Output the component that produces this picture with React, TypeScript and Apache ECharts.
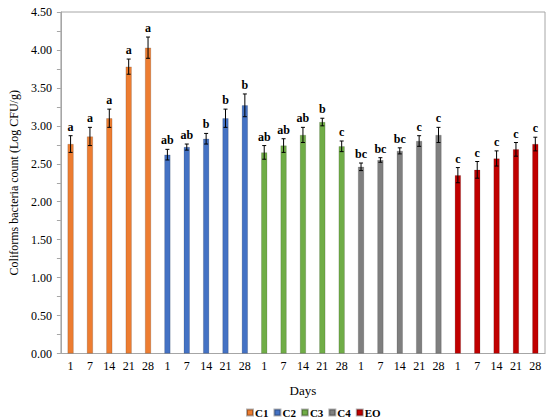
import React, { useEffect, useRef } from "react";
import * as echarts from "echarts";

const days = ["1", "7", "14", "21", "28"];
const groups = ["C1", "C2", "C3", "C4", "EO"];
const colors = ["#ED7D31", "#4472C4", "#70AD47", "#7F7F7F", "#C00000"];

const c1Mean = [2.76, 2.86, 3.1, 3.78, 4.03];
const c1Err = [0.11, 0.12, 0.12, 0.1, 0.14];
const c1Letters = ["a", "a", "a", "a", "a"];

const c2Mean = [2.62, 2.72, 2.83, 3.1, 3.27];
const c2Err = [0.07, 0.04, 0.07, 0.12, 0.15];
const c2Letters = ["ab", "ab", "b", "b", "b"];

const c3Mean = [2.65, 2.74, 2.88, 3.05, 2.73];
const c3Err = [0.09, 0.09, 0.1, 0.05, 0.07];
const c3Letters = ["ab", "ab", "ab", "b", "c"];

const c4Mean = [2.46, 2.55, 2.67, 2.8, 2.88];
const c4Err = [0.05, 0.03, 0.04, 0.07, 0.1];
const c4Letters = ["bc", "bc", "bc", "c", "c"];

const eoMean = [2.35, 2.42, 2.57, 2.69, 2.76];
const eoErr = [0.1, 0.11, 0.1, 0.09, 0.09];
const eoLetters = ["c", "c", "c", "c", "c"];

const yTicks = [0, 0.5, 1, 1.5, 2, 2.5, 3, 3.5, 4, 4.5];

const means = [c1Mean, c2Mean, c3Mean, c4Mean, eoMean];
const errs = [c1Err, c2Err, c3Err, c4Err, eoErr];
const letters = [c1Letters, c2Letters, c3Letters, c4Letters, eoLetters];

const FONT = "Liberation Serif";

export default function App() {
  const ref = useRef<HTMLDivElement>(null);
  useEffect(() => {
    if (!ref.current) return;
    const chart = echarts.init(ref.current, null, { renderer: "svg" });
    const categories: string[] = [];
    groups.forEach((g) => days.forEach((d) => categories.push(g + "|" + d)));
    const n = categories.length;

    const barSeries = groups.map((g, gi) => {
      const data: any[] = new Array(n).fill("-");
      means[gi].forEach((v, di) => {
        data[gi * days.length + di] = v;
      });
      return {
        name: g,
        type: "bar",
        stack: "all",
        barWidth: 6,
        itemStyle: { color: colors[gi], borderColor: "rgba(0,0,0,0.3)", borderWidth: 0.5 },
        data,
      };
    });

    const errData: any[] = [];
    groups.forEach((g, gi) =>
      days.forEach((d, di) => {
        errData.push([gi * days.length + di, means[gi][di], errs[gi][di], letters[gi][di]]);
      })
    );

    const errSeries = {
      type: "custom",
      name: "err",
      data: errData,
      z: 10,
      renderItem: (params: any, api: any) => {
        const x = api.value(0);
        const m = api.value(1);
        const e = api.value(2);
        const item = errData[params.dataIndex];
        const top = api.coord([x, m + e]);
        const bot = api.coord([x, m - e]);
        const cw = 2;
        const style = { stroke: "#000", lineWidth: 1 };
        return {
          type: "group",
          children: [
            { type: "line", shape: { x1: top[0], y1: top[1], x2: bot[0], y2: bot[1] }, style },
            { type: "line", shape: { x1: top[0] - cw, y1: top[1], x2: top[0] + cw, y2: top[1] }, style },
            { type: "line", shape: { x1: bot[0] - cw, y1: bot[1], x2: bot[0] + cw, y2: bot[1] }, style },
            {
              type: "text",
              x: top[0],
              y: top[1] - 3,
              style: {
                text: item[3],
                fill: "#000",
                font: "bold 12px " + FONT,
                align: "center",
                verticalAlign: "bottom",
              },
            },
          ],
        };
      },
    };

    chart.setOption({
      animation: false,
      textStyle: { fontFamily: FONT },
      grid: {
        left: 53,
        right: 5,
        top: 12,
        bottom: 66.5,
        show: true,
        borderColor: "#A6A6A6",
        borderWidth: 1,
      },
      legend: {
        data: groups,
        bottom: 2,
        left: 246,
        padding: 0,
        itemWidth: 6,
        itemHeight: 6,
        itemGap: 5,
        icon: "rect",
        textStyle: { fontFamily: FONT, fontWeight: "bold", fontSize: 11, color: "#000", padding: [0, 0, 0, -3] },
      },
      xAxis: {
        type: "category",
        data: categories,
        name: "Days",
        nameLocation: "middle",
        nameGap: 30,
        nameTextStyle: { fontFamily: FONT, fontSize: 13, color: "#000" },
        axisLine: { lineStyle: { color: "#A6A6A6" } },
        axisTick: { show: false },
        axisLabel: {
          interval: 0,
          margin: 6,
          fontFamily: FONT,
          fontSize: 12,
          color: "#000",
          formatter: (v: string) => v.split("|")[1],
        },
      },
      yAxis: {
        type: "value",
        min: yTicks[0],
        max: yTicks[yTicks.length - 1],
        interval: 0.5,
        name: "Coliforms bacteria count (Log CFU/g)",
        nameLocation: "middle",
        nameGap: 38,
        nameTextStyle: { fontFamily: FONT, fontSize: 12, color: "#000" },
        axisLine: { show: true, lineStyle: { color: "#A6A6A6" } },
        axisTick: { show: true, inside: false, length: 4, lineStyle: { color: "#A6A6A6" } },
        minorTick: { show: true, splitNumber: 2, length: 4, lineStyle: { color: "#A6A6A6" } },
        splitLine: { show: false },
        axisLabel: {
          margin: 9,
          fontFamily: FONT,
          fontSize: 12,
          color: "#000",
          formatter: (v: number) => v.toFixed(2),
        },
      },
      series: [...barSeries, errSeries],
    });
    return () => chart.dispose();
  }, []);
  return (
    <div
      ref={ref}
      style={{ position: "absolute", left: 0, top: 0, width: 550, height: 420, background: "#fff" }}
    />
  );
}
